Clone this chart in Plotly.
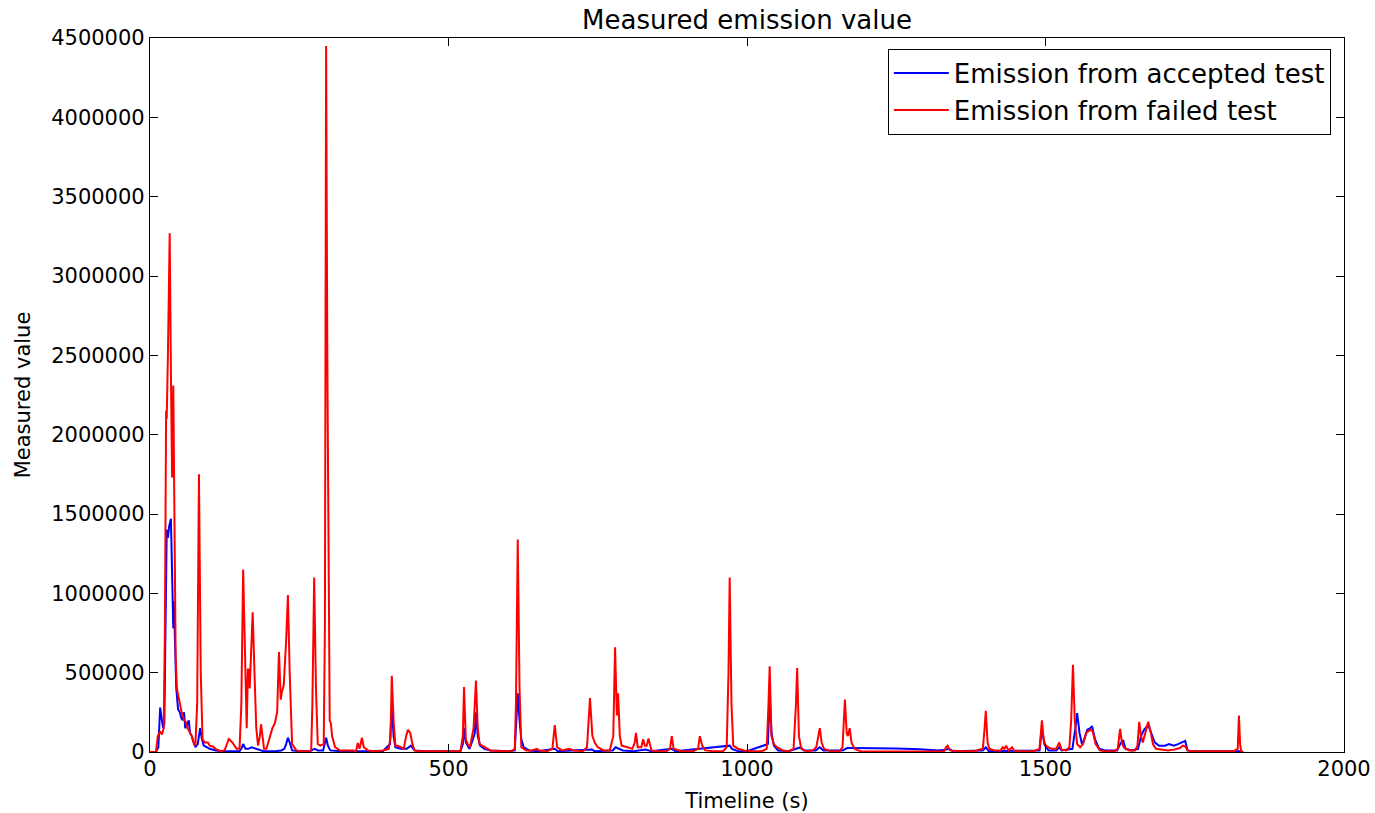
import plotly.graph_objects as go

# Emission from failed test (red)
failed_t = [0, 10, 13, 17, 20, 23, 25, 27, 28, 30, 33, 35, 37, 39, 41, 43, 45, 50, 53, 57, 60, 63, 67, 70, 73, 76, 79, 82, 85, 88, 92, 97, 100, 105, 110, 118, 125, 132, 138, 145, 150, 153, 156, 159, 162, 164, 166, 167, 169, 172, 175, 178, 181, 184, 186, 188, 191, 195, 200, 205, 209, 213, 216, 219, 221, 224, 228, 231, 234, 238, 245, 255, 265, 270, 272, 275, 278, 281, 285, 291, 293, 295, 297, 299, 301, 303, 305, 310, 318, 330, 340, 345, 348, 351, 355, 358, 365, 375, 390, 400, 403, 405, 408, 411, 415, 420, 425, 429, 432, 436, 439, 443, 449, 460, 480, 500, 520, 524, 526, 529, 532, 536, 539, 542, 546, 549, 552, 560, 570, 590, 605, 611, 613, 616, 619, 622, 630, 640, 648, 652, 665, 674, 678, 682, 690, 702, 710, 725, 732, 737, 741, 745, 750, 760, 770, 776, 779, 782, 784, 787, 790, 800, 808, 812, 814, 817, 823, 826, 829, 832, 835, 840, 850, 865, 871, 874, 877, 890, 910, 918, 921, 925, 930, 945, 960, 966, 969, 971, 974, 977, 985, 995, 1010, 1025, 1033, 1036, 1038, 1041, 1045, 1050, 1060, 1070, 1078, 1082, 1084, 1087, 1091, 1100, 1110, 1116, 1119, 1122, 1125, 1129, 1140, 1155, 1160, 1164, 1167, 1169, 1172, 1175, 1180, 1190, 1220, 1260, 1300, 1330, 1333, 1336, 1340, 1360, 1380, 1395, 1398, 1400, 1403, 1406, 1415, 1425, 1428, 1431, 1434, 1438, 1444, 1447, 1460, 1480, 1490, 1494, 1497, 1500, 1510, 1518, 1523, 1527, 1535, 1540, 1543, 1546, 1549, 1553, 1558, 1563, 1568, 1571, 1575, 1579, 1584, 1591, 1600, 1615, 1621, 1625, 1628, 1631, 1640, 1650, 1654, 1657, 1660, 1663, 1667, 1672, 1676, 1680, 1685, 1695, 1705, 1715, 1725, 1730, 1734, 1738, 1745, 1780, 1815, 1822, 1824, 1826, 1828, 1832]
failed_v = [0, 0, 100000, 130000, 110000, 150000, 800000, 2150000, 2100000, 2500000, 3270000, 2400000, 1730000, 2310000, 1300000, 600000, 400000, 300000, 250000, 200000, 190000, 150000, 120000, 100000, 60000, 40000, 300000, 1750000, 500000, 80000, 60000, 60000, 40000, 35000, 20000, 5000, 10000, 82000, 60000, 20000, 20000, 300000, 1150000, 600000, 150000, 520000, 520000, 400000, 600000, 880000, 500000, 150000, 40000, 100000, 175000, 100000, 20000, 20000, 80000, 150000, 180000, 250000, 630000, 330000, 380000, 420000, 700000, 990000, 500000, 50000, 10000, 5000, 5000, 10000, 300000, 1100000, 400000, 50000, 40000, 50000, 800000, 4450000, 2500000, 1000000, 200000, 180000, 100000, 30000, 10000, 10000, 10000, 5000, 57000, 20000, 90000, 30000, 10000, 5000, 10000, 20000, 100000, 480000, 200000, 40000, 40000, 30000, 20000, 100000, 140000, 120000, 60000, 10000, 5000, 5000, 5000, 5000, 5000, 100000, 410000, 80000, 50000, 30000, 80000, 150000, 450000, 150000, 50000, 30000, 10000, 5000, 5000, 20000, 300000, 1340000, 400000, 30000, 10000, 10000, 20000, 10000, 5000, 20000, 170000, 30000, 10000, 20000, 10000, 5000, 30000, 340000, 100000, 60000, 30000, 10000, 10000, 100000, 660000, 230000, 370000, 100000, 40000, 30000, 20000, 60000, 120000, 30000, 30000, 80000, 40000, 40000, 85000, 10000, 5000, 5000, 20000, 100000, 20000, 5000, 5000, 20000, 100000, 40000, 10000, 5000, 5000, 30000, 500000, 1100000, 300000, 40000, 20000, 10000, 5000, 5000, 20000, 300000, 540000, 100000, 50000, 30000, 10000, 5000, 20000, 300000, 530000, 100000, 20000, 5000, 10000, 30000, 80000, 150000, 60000, 20000, 5000, 5000, 30000, 330000, 120000, 100000, 150000, 60000, 20000, 5000, 3000, 3000, 3000, 3000, 30000, 40000, 10000, 5000, 5000, 20000, 150000, 260000, 60000, 20000, 10000, 10000, 30000, 20000, 40000, 10000, 30000, 10000, 5000, 5000, 20000, 200000, 80000, 40000, 20000, 20000, 60000, 15000, 10000, 30000, 200000, 550000, 200000, 50000, 30000, 50000, 120000, 130000, 140000, 130000, 50000, 10000, 5000, 5000, 20000, 145000, 60000, 30000, 10000, 10000, 40000, 190000, 100000, 60000, 120000, 190000, 130000, 50000, 20000, 15000, 10000, 15000, 25000, 40000, 35000, 10000, 5000, 5000, 5000, 20000, 230000, 50000, 0, 0]

# Emission from accepted test (blue)
accepted_t = [0, 10, 14, 17, 20, 22, 24, 26, 28, 30, 32, 35, 37, 39, 40, 42, 44, 47, 50, 52, 54, 57, 59, 62, 65, 67, 70, 73, 76, 80, 84, 87, 90, 95, 100, 110, 120, 140, 150, 153, 156, 160, 165, 170, 175, 180, 186, 190, 210, 220, 225, 228, 231, 234, 238, 250, 268, 273, 276, 281, 290, 295, 298, 302, 320, 350, 390, 402, 405, 408, 411, 420, 430, 437, 443, 460, 520, 524, 526, 529, 535, 541, 544, 546, 549, 553, 560, 570, 600, 611, 614, 616, 619, 622, 626, 635, 650, 678, 683, 735, 740, 745, 775, 780, 786, 792, 810, 830, 840, 874, 880, 971, 975, 985, 1000, 1035, 1038, 1041, 1045, 1052, 1070, 1084, 1090, 1095, 1115, 1122, 1128, 1160, 1168, 1175, 1200, 1250, 1290, 1320, 1333, 1338, 1345, 1395, 1400, 1405, 1490, 1494, 1498, 1505, 1518, 1523, 1527, 1545, 1550, 1553, 1557, 1561, 1565, 1570, 1575, 1578, 1583, 1590, 1600, 1620, 1625, 1630, 1634, 1645, 1655, 1660, 1665, 1672, 1677, 1683, 1690, 1700, 1707, 1715, 1722, 1730, 1734, 1738, 1745, 1790, 1830]
accepted_v = [0, 0, 30000, 280000, 200000, 150000, 180000, 700000, 1400000, 1350000, 1420000, 1470000, 1100000, 780000, 950000, 600000, 400000, 270000, 250000, 220000, 200000, 250000, 150000, 170000, 200000, 120000, 100000, 60000, 30000, 50000, 150000, 80000, 40000, 30000, 20000, 10000, 5000, 5000, 5000, 20000, 50000, 20000, 20000, 30000, 25000, 20000, 10000, 5000, 5000, 10000, 20000, 50000, 90000, 60000, 10000, 5000, 5000, 15000, 20000, 10000, 10000, 90000, 40000, 10000, 5000, 5000, 5000, 50000, 300000, 100000, 30000, 20000, 20000, 40000, 10000, 5000, 5000, 50000, 150000, 60000, 20000, 80000, 120000, 250000, 100000, 40000, 20000, 10000, 5000, 10000, 200000, 370000, 200000, 80000, 30000, 10000, 5000, 20000, 5000, 10000, 15000, 5000, 10000, 30000, 20000, 10000, 5000, 15000, 5000, 20000, 5000, 40000, 20000, 5000, 5000, 50000, 350000, 120000, 40000, 10000, 5000, 20000, 30000, 10000, 10000, 30000, 10000, 10000, 25000, 25000, 25000, 22000, 18000, 10000, 15000, 20000, 5000, 10000, 30000, 5000, 10000, 150000, 50000, 10000, 10000, 30000, 10000, 20000, 150000, 245000, 120000, 50000, 80000, 140000, 150000, 163000, 80000, 20000, 10000, 10000, 50000, 75000, 20000, 10000, 20000, 100000, 140000, 170000, 120000, 60000, 40000, 40000, 50000, 40000, 50000, 63000, 70000, 10000, 5000, 5000, 5000]

x_ticks = [0, 500, 1000, 1500, 2000]
y_ticks = [0, 500000, 1000000, 1500000, 2000000, 2500000, 3000000, 3500000, 4000000, 4500000]

FONT = "DejaVu Sans"

fig = go.Figure()
fig.add_trace(go.Scatter(x=accepted_t, y=accepted_v, mode="lines",
                         name="Emission from accepted test",
                         line=dict(color="#0000ff", width=2)))
fig.add_trace(go.Scatter(x=failed_t, y=failed_v, mode="lines",
                         name="Emission from failed test",
                         line=dict(color="#ff0000", width=2)))

axis_common = dict(showline=True, linecolor="black", linewidth=1.2, mirror="ticks",
                   ticks="inside", ticklen=8, tickwidth=1, tickcolor="black",
                   showgrid=False, zeroline=False, automargin=False,
                   tickfont=dict(family=FONT, size=21, color="black"))

fig.update_layout(
    width=1375, height=813,
    margin=dict(l=150, r=31, t=38, b=61),
    paper_bgcolor="white", plot_bgcolor="white",
    font=dict(family=FONT, color="black"),
    title=dict(text="Measured emission value", x=(150 + 1344) / 2 / 1375, xanchor="center",
               y=1 - 20 / 813, yanchor="middle", font=dict(family=FONT, size=26, color="black")),
    xaxis=dict(range=[0, 2000], tickvals=x_ticks, ticktext=[str(v) for v in x_ticks],
               ticklabelstandoff=-2,
               title=dict(text="Timeline (s)", font=dict(family=FONT, size=21, color="black"), standoff=14),
               **axis_common),
    yaxis=dict(range=[0, 4500000], tickvals=y_ticks, ticktext=[str(v) for v in y_ticks],
               ticklabelstandoff=0,
               title=dict(text="Measured value", font=dict(family=FONT, size=21, color="black"), standoff=14),
               **axis_common),
    legend=dict(x=0.989, y=0.985, xanchor="right", yanchor="top",
                bordercolor="black", borderwidth=1, bgcolor="white",
                font=dict(family=FONT, size=26, color="black"),
                itemwidth=55, tracegroupgap=0),
    showlegend=True,
)

fig.write_html("out.html")
